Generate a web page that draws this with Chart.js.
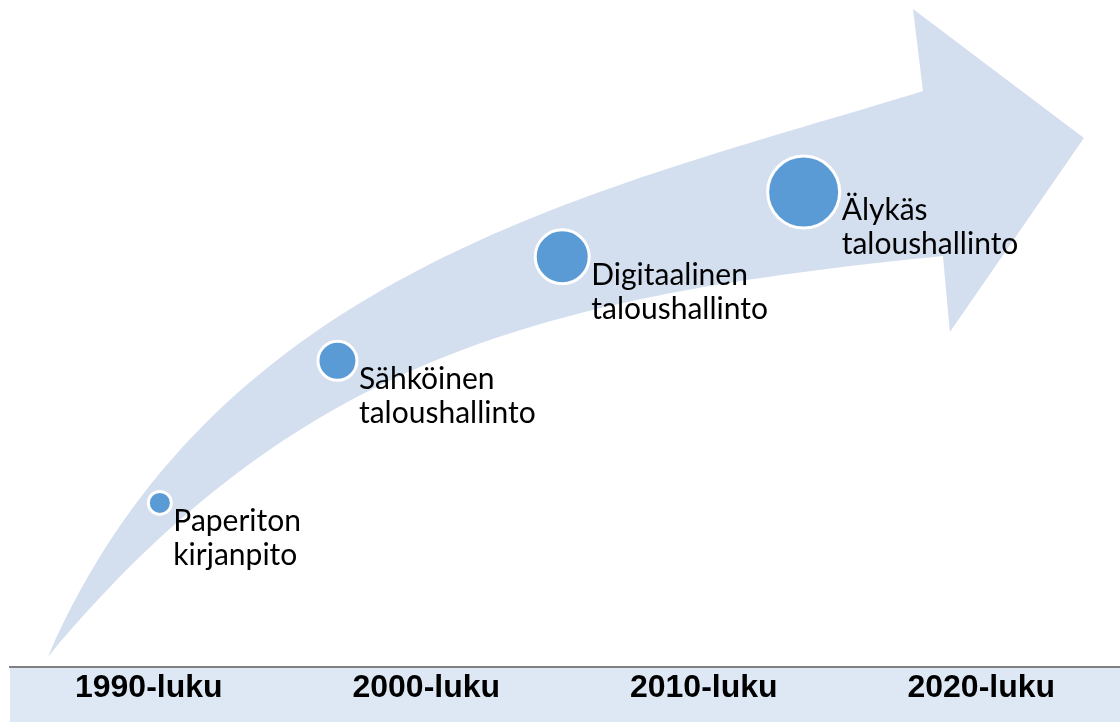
<!DOCTYPE html>
<html>
<head>
<meta charset="utf-8">
<script src="https://cdn.jsdelivr.net/npm/chart.js@4/dist/chart.umd.min.js"></script>
<style>
  html, body { margin: 0; padding: 0; background: #ffffff; }
  #wrap { width: 1120px; height: 722px; }
</style>
</head>
<body>
<div id="wrap"><canvas id="c" width="1120" height="722"></canvas></div>
<script>
// ---- data ----
const decadeLabels = ["1990-luku", "2000-luku", "2010-luku", "2020-luku"];
const stageNames = [
  ["Paperiton", "kirjanpito"],
  ["Sähköinen", "taloushallinto"],
  ["Digitaalinen", "taloushallinto"],
  ["Älykäs", "taloushallinto"]
];
const stageYear = [1990.4, 1996.8, 2004.9, 2013.6];     // position on the time axis
const stageLevel = [24.6, 45.9, 61.5, 71.2];            // maturity level (0-100)
const stageSize = [11.5, 19.5, 27, 36];                 // bubble radius

// curved arrow outline (time axis / level units)
const arrowLowerX = [1986.37, 1995.38, 2004.21, 2018.62];
const arrowLowerY = [1.5, 46.48, 55.62, 61.62];
const arrowHeadX = [2018.87, 2023.70, 2017.54, 2017.90];
const arrowHeadY = [50.22, 79.31, 98.65, 86.36];
const arrowUpperX = [2017.90, 2006.37, 1992.50, 1986.37];
const arrowUpperY = [86.36, 71.51, 60.12, 1.5];

const bubbleData = stageYear.map((x, i) => ({ x: x, y: stageLevel[i], r: stageSize[i] }));

const bandPlugin = {
  id: 'band',
  beforeDraw(chart) {
    const s = chart.scales.xc;
    const ctx = chart.ctx;
    ctx.save();
    ctx.fillStyle = '#DEE8F5';
    ctx.fillRect(s.left, s.top, s.right - s.left, chart.height - s.top);
    ctx.restore();
  }
};

const arrowPlugin = {
  id: 'arrow',
  beforeDatasetsDraw(chart) {
    const xs = chart.scales.x, ys = chart.scales.y;
    const px = v => xs.getPixelForValue(v), py = v => ys.getPixelForValue(v);
    const ctx = chart.ctx;
    ctx.save();
    ctx.beginPath();
    ctx.moveTo(px(arrowLowerX[0]), py(arrowLowerY[0]));
    ctx.bezierCurveTo(px(arrowLowerX[1]), py(arrowLowerY[1]), px(arrowLowerX[2]), py(arrowLowerY[2]), px(arrowLowerX[3]), py(arrowLowerY[3]));
    for (let i = 0; i < arrowHeadX.length; i++) ctx.lineTo(px(arrowHeadX[i]), py(arrowHeadY[i]));
    ctx.bezierCurveTo(px(arrowUpperX[1]), py(arrowUpperY[1]), px(arrowUpperX[2]), py(arrowUpperY[2]), px(arrowUpperX[3]), py(arrowUpperY[3]));
    ctx.closePath();
    ctx.fillStyle = '#D3DEEF';
    ctx.fill();
    ctx.restore();
  }
};

const labelPlugin = {
  id: 'stageLabels',
  afterDatasetsDraw(chart) {
    const meta = chart.getDatasetMeta(0);
    const ctx = chart.ctx;
    ctx.save();
    ctx.fillStyle = '#000000';
    ctx.font = '30px Lato, "Open Sans", sans-serif';
    ctx.textAlign = 'left';
    ctx.textBaseline = 'alphabetic';
    meta.data.forEach((el, i) => {
      const r = el.options.radius + el.options.borderWidth / 2;
      stageNames[i].forEach((line, j) => {
        ctx.fillText(line, el.x + r + 0.5, el.y + 28 + j * 34);
      });
    });
    ctx.restore();
  }
};

new Chart(document.getElementById('c'), {
  type: 'bubble',
  data: {
    datasets: [{
      data: bubbleData,
      backgroundColor: '#5B9BD5',
      borderColor: '#FFFFFF',
      borderWidth: 3,
      hoverBorderWidth: 3,
      clip: false
    }]
  },
  options: {
    responsive: false,
    animation: false,
    events: [],
    layout: { autoPadding: false, padding: { left: 10, right: 0, top: 0, bottom: 0 } },
    plugins: { legend: { display: false }, tooltip: { enabled: false } },
    scales: {
      x: { type: 'linear', min: 1985, max: 2025, display: false },
      y: { type: 'linear', min: 0, max: 100, display: false },
      xc: {
        type: 'category',
        position: 'bottom',
        labels: decadeLabels,
        offset: true,
        grid: { display: false, drawTicks: false },
        border: { display: true, color: '#808080', width: 2 },
        ticks: {
          color: '#000000',
          padding: 2,
          maxRotation: 0,
          autoSkip: false,
          font: { family: '"Liberation Sans", Arial, sans-serif', size: 32, weight: 'bold' }
        },
        afterFit(scale) { scale.height = 55; scale.paddingLeft = 0; scale.paddingRight = 0; }
      }
    }
  },
  plugins: [bandPlugin, arrowPlugin, labelPlugin]
});
</script>
</body>
</html>
